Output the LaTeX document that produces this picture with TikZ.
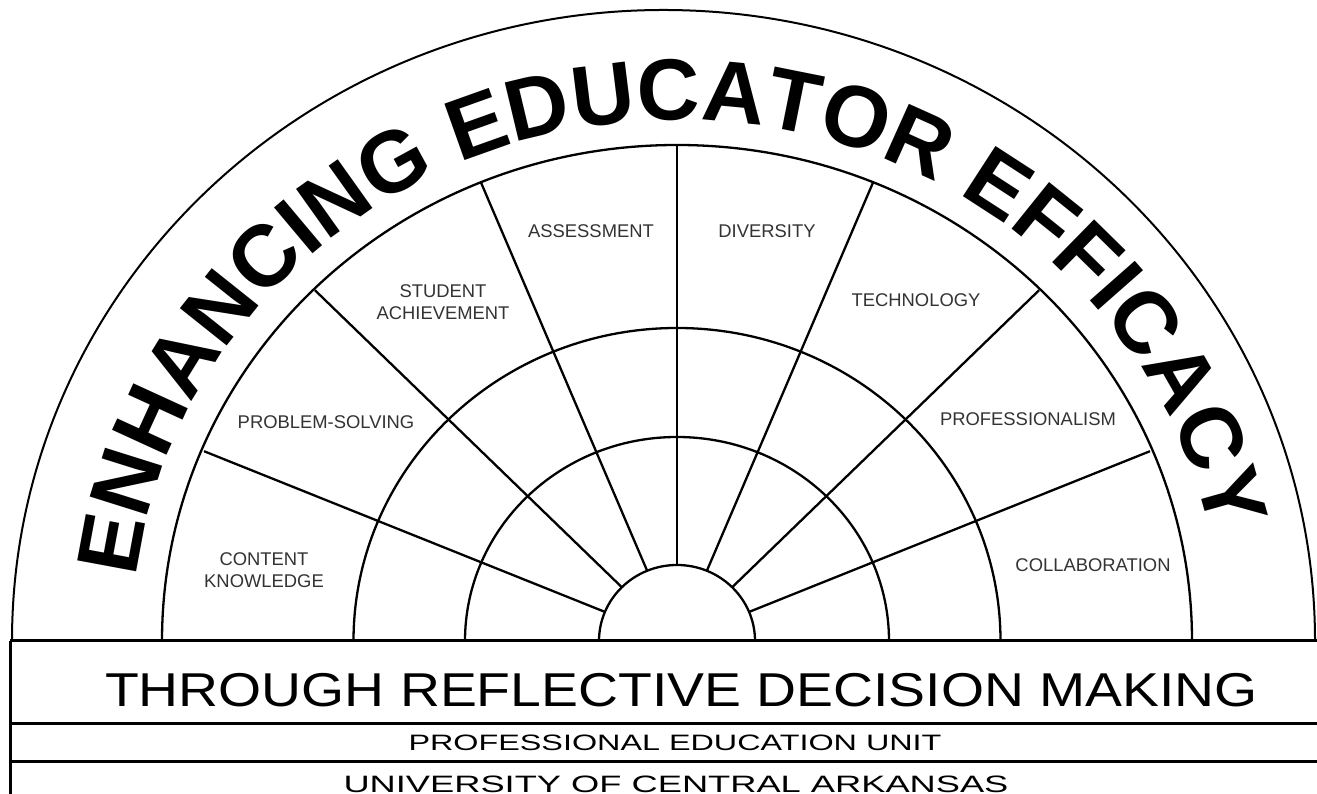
\documentclass[tikz,border=0pt]{standalone}
\usepackage{fontspec}
\setmainfont{Liberation Sans}
\usetikzlibrary{decorations.text}
\definecolor{labelgray}{HTML}{333333}
\tikzset{
  arcline/.style={line width=2.3pt, black},
  outline/.style={line width=2pt, black},
  boxline/.style={line width=3pt, black},
  seglabel/.style={font=\fontsize{18.4}{21.5}\selectfont, text=labelgray, align=center, inner sep=0pt},
}
\begin{document}
\begin{tikzpicture}[x=1pt,y=1pt,line join=round]
\useasboundingbox (0,0) rectangle (1317,794);
\fill[white] (0,0) rectangle (1317,794);
\coordinate (C) at (677,153);
% outer band arc
\draw[outline] (12,153) arc[start angle=180,end angle=0,x radius=651.5,y radius=631];
% concentric semicircles
\draw[arcline] (599,153) arc[start angle=180,end angle=0,x radius=78,y radius=76];
\draw[arcline] (465,153) arc[start angle=180,end angle=0,x radius=212,y radius=204];
\draw[arcline] (353.5,153) arc[start angle=180,end angle=0,x radius=323.5,y radius=313];
\draw[arcline] (162,153) arc[start angle=180,end angle=0,x radius=515,y radius=496];
% spokes
\foreach \a in {22.5,45,67.5,90,112.5,135,157.5}{
  \draw[arcline] ({677+78*cos(\a)},{153+76*sin(\a)}) -- ({677+512*cos(\a)},{153+496*sin(\a)});
}
% bottom boxes
\draw[boxline] (10,153) -- (1317,153);
\draw[boxline] (10,70) -- (1317,70);
\draw[boxline] (10,32) -- (1317,32);
\draw[boxline] (10,153) -- (10,0);
% curved title
\path[decorate,decoration={text along path,text align=center,
  text={|\fontsize{87}{87}\selectfont\bfseries|ENHANCING EDUCATOR EFFICACY}}]
  ({677+545*cos(182.5)},{153+521*sin(182.5)}) arc[start angle=182.5,end angle=2.5,x radius=545,y radius=521];
% segment labels
\node[seglabel] (ck) at (264,224) {CONTENT\\KNOWLEDGE};
\node[seglabel] (ps) at (326,372) {PROBLEM-SOLVING};
\node[seglabel] (sa) at (443,492) {STUDENT\\ACHIEVEMENT};
\node[seglabel] (as) at (591,563) {ASSESSMENT};
\node[seglabel] (dv) at (767,563) {DIVERSITY};
\node[seglabel] (te) at (916,494) {TECHNOLOGY};
\node[seglabel] (pr) at (1028,375) {PROFESSIONALISM};
\node[seglabel] (co) at (1093,229) {COLLABORATION};
% bottom texts
\node[inner sep=0pt] (t1) at (681.5,104) {\scalebox{1.165}[1]{\fontsize{47.5}{50}\selectfont THROUGH REFLECTIVE DECISION MAKING}};
\node[inner sep=0pt] (t2) at (675,51) {\scalebox{1.45}[1]{\fontsize{22.3}{24}\selectfont PROFESSIONAL EDUCATION UNIT}};
\node[inner sep=0pt] (t3) at (676,10) {\scalebox{1.53}[1]{\fontsize{23.7}{25}\selectfont UNIVERSITY OF CENTRAL ARKANSAS}};
\end{tikzpicture}
\end{document}
